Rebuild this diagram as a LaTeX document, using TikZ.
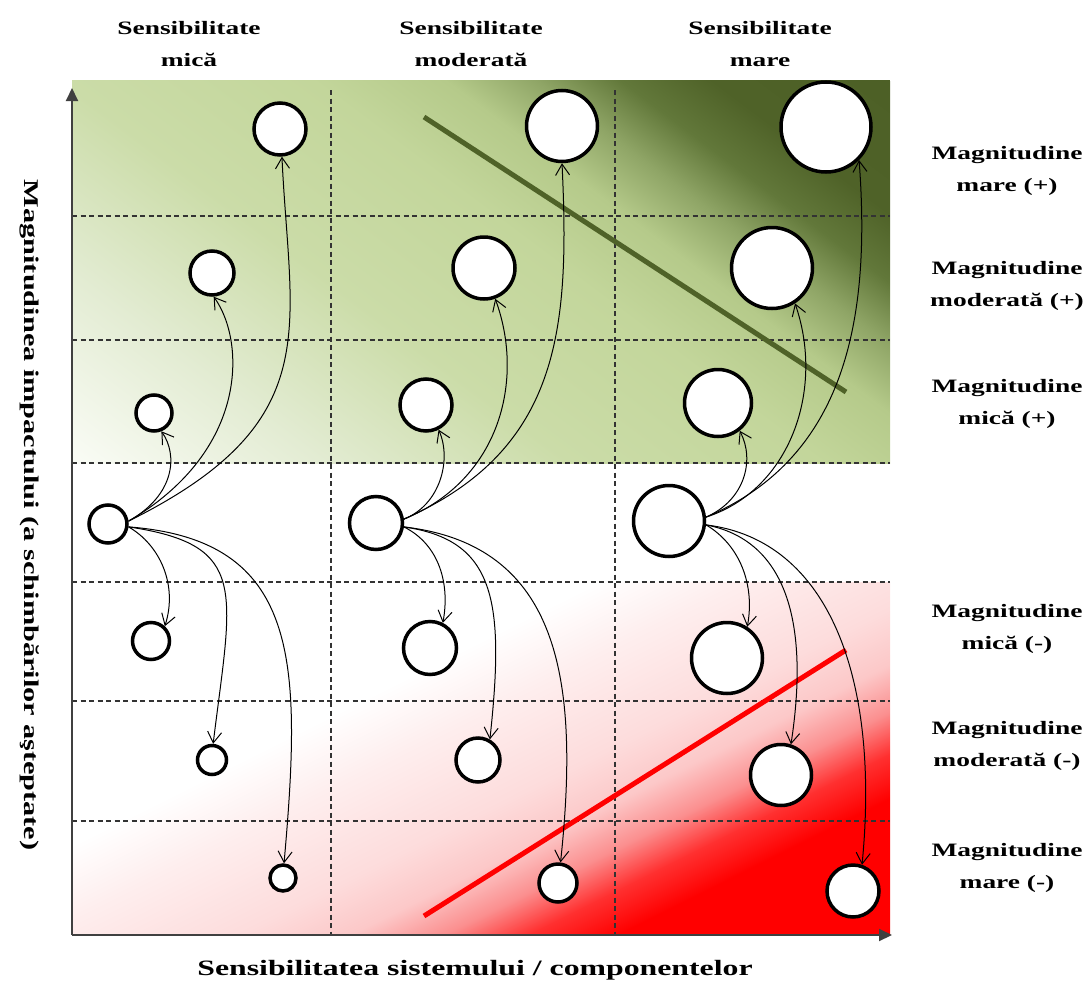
\documentclass[tikz,border=0pt]{standalone}
\usepackage{fontspec}
\newfontfamily\lblfont{Liberation Serif}[FakeStretch=1.45]
\usetikzlibrary{arrows.meta}
\definecolor{gA}{HTML}{FAFCF6}
\definecolor{gB}{HTML}{E3ECD3}
\definecolor{gC}{HTML}{CBDCA8}
\definecolor{gD}{HTML}{C3D69B}
\definecolor{gE}{HTML}{B5CA8A}
\definecolor{gF}{HTML}{8FA566}
\definecolor{gG}{HTML}{62783A}
\definecolor{gH}{HTML}{4F6228}
\definecolor{gI}{HTML}{4D6026}
\definecolor{rA}{HTML}{FEEEEE}
\definecolor{rB}{HTML}{FDDCDC}
\definecolor{rC}{HTML}{FCC8C8}
\definecolor{rD}{HTML}{FB8F8F}
\definecolor{rE}{HTML}{FF3030}
\definecolor{rF}{HTML}{FF0000}
\definecolor{olive}{HTML}{4F6228}
\pgfdeclarehorizontalshading{greensh}{1000bp}{color(0bp)=(gA); color(150bp)=(gB); color(300bp)=(gC); color(450bp)=(gD); color(530bp)=(gE); color(585bp)=(gF); color(635bp)=(gG); color(690bp)=(gH); color(797bp)=(gI)}
\pgfdeclarehorizontalshading{redsh}{1000bp}{color(0bp)=(white); color(235bp)=(white); color(300bp)=(rA); color(390bp)=(rB); color(440bp)=(rC); color(482bp)=(rD); color(520bp)=(rE); color(560bp)=(rF); color(682bp)=(rF)}
\tikzset{
  lbl/.style={align=center, inner sep=0pt, font=\lblfont\bfseries\fontsize{19}{32}\selectfont},
  dot/.style={circle, draw=black, line width=3.5bp, fill=white, inner sep=0pt},
  conn/.style={line width=1bp, -{Straight Barb[length=11bp,width=14bp]}},
  gridline/.style={line width=1.2bp, black!80, dash pattern=on 5bp off 3.5bp},
  axisline/.style={line width=2bp, black!75, -{Triangle[length=13bp,width=12bp]}},
}
\begin{document}
\begin{tikzpicture}[x=1bp, y=-1bp]
\useasboundingbox (0,0) rectangle (1091,985);
% shaded backgrounds
\begin{scope}
  \clip (72,80) rectangle (890,463);
  \node[inner sep=0pt, outer sep=0pt, rotate=53.13] (gshade) at (481,271.5) {\pgfuseshading{greensh}};
\end{scope}
\begin{scope}
  \clip (72,582) rectangle (890,935);
  \node[inner sep=0pt, outer sep=0pt, rotate=-63.43] (rshade) at (481,758.5) {\pgfuseshading{redsh}};
\end{scope}
% grid
\foreach \yy in {216,340,463,582,701,821} \draw[gridline] (72,\yy) -- (890,\yy);
\foreach \xx in {331,615} \draw[gridline] (\xx,90) -- (\xx,935);
% axes
\draw[axisline] (72,935) -- (72,88);
\draw[axisline] (72,935) -- (892,935);
% threshold lines
\draw[olive, line width=5bp] (424,117) -- (846,392);
\draw[red, line width=5bp] (424,916) -- (846,650);
% circles
\node[dot, minimum size=52bp] (c1a) at (280,129) {};
\node[dot, minimum size=44bp] (c1b) at (212,273) {};
\node[dot, minimum size=36bp] (c1c) at (154,413) {};
\node[dot, minimum size=38bp] (s1)  at (108,524) {};
\node[dot, minimum size=37bp] (c1e) at (151,641) {};
\node[dot, minimum size=29bp] (c1f) at (212,760) {};
\node[dot, minimum size=26bp] (c1g) at (283,878) {};
\node[dot, minimum size=71bp] (c2a) at (562,126) {};
\node[dot, minimum size=62bp] (c2b) at (484,268) {};
\node[dot, minimum size=52bp] (c2c) at (426,405) {};
\node[dot, minimum size=53bp] (s2)  at (376,523) {};
\node[dot, minimum size=53bp] (c2e) at (430,648) {};
\node[dot, minimum size=44bp] (c2f) at (478,760) {};
\node[dot, minimum size=38bp] (c2g) at (558,883) {};
\node[dot, minimum size=90bp] (c3a) at (826,127) {};
\node[dot, minimum size=81bp] (c3b) at (772,268) {};
\node[dot, minimum size=67bp] (c3c) at (718,403) {};
\node[dot, minimum size=71bp] (s3)  at (669,521) {};
\node[dot, minimum size=71bp] (c3e) at (727,658) {};
\node[dot, minimum size=61bp] (c3f) at (781,775) {};
\node[dot, minimum size=52bp] (c3g) at (853,891) {};
% connectors column 1
\draw[conn] (s1.8) .. controls (328,422) and (290,330) .. (c1a.-86);
\draw[conn] (s1.8) .. controls (250,450) and (245,340) .. (c1b.-86);
\draw[conn] (s1.8) .. controls (175,495) and (178,455) .. (c1c.-68);
\draw[conn] (s1.-8) .. controls (160,545) and (178,585) .. (c1e.47);
\draw[conn] (s1.-8) .. controls (250,545) and (232,590) .. (c1f.86);
\draw[conn] (s1.-8) .. controls (300,540) and (302,660) .. (c1g.86);
% connectors column 2
\draw[conn] (s2.8) .. controls (560,450) and (570,330) .. (c2a.-90);
\draw[conn] (s2.8) .. controls (500,480) and (525,380) .. (c2b.-70);
\draw[conn] (s2.8) .. controls (440,505) and (452,460) .. (c2c.-63);
\draw[conn] (s2.-8) .. controls (440,545) and (450,585) .. (c2e.63);
\draw[conn] (s2.-8) .. controls (495,540) and (505,600) .. (c2f.60);
\draw[conn] (s2.-8) .. controls (560,545) and (580,680) .. (c2g.83);
% connectors column 3
\draw[conn] (s3.6) .. controls (840,460) and (872,330) .. (c3a.-45);
\draw[conn] (s3.6) .. controls (790,490) and (825,390) .. (c3b.-57);
\draw[conn] (s3.6) .. controls (745,500) and (755,460) .. (c3c.-52);
\draw[conn] (s3.-6) .. controls (740,545) and (755,585) .. (c3e.57);
\draw[conn] (s3.-6) .. controls (785,540) and (810,620) .. (c3f.72);
\draw[conn] (s3.-6) .. controls (830,540) and (880,680) .. (c3g.71);
% labels
\node[lbl] (h1) at (189,44) {Sensibilitate\\mică};
\node[lbl] (h2) at (471,44) {Sensibilitate\\moderată};
\node[lbl] (h3) at (760,44) {Sensibilitate\\mare};
\node[lbl] (m1) at (1007,171) {Magnitudine\\mare (+)};
\node[lbl] (m2) at (1007,286) {Magnitudine\\moderată (+)};
\node[lbl] (m3) at (1007,404) {Magnitudine\\mică (+)};
\node[lbl] (m4) at (1007,629) {Magnitudine\\mică (-)};
\node[lbl] (m5) at (1007,746) {Magnitudine\\moderată (-)};
\node[lbl] (m6) at (1007,868) {Magnitudine\\mare (-)};
\node[lbl, font=\lblfont\bfseries\fontsize{22}{26}\selectfont] (xl) at (475,970) {Sensibilitatea sistemului / componentelor};
\node[lbl, font=\lblfont\bfseries\fontsize{21}{26}\selectfont, rotate=-90] (yl) at (30,515) {Magnitudinea impactului (a schimbărilor aşteptate)};
\end{tikzpicture}
\end{document}
